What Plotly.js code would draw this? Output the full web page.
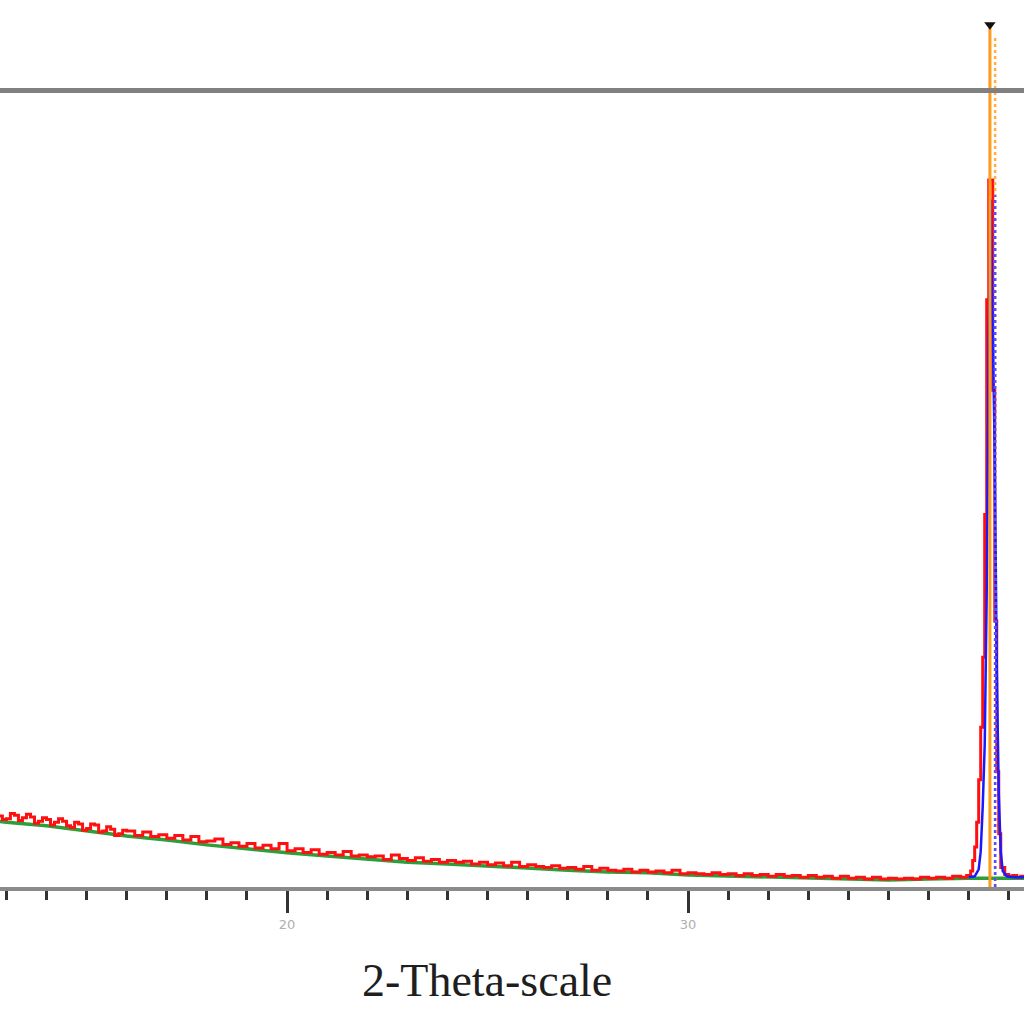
<!DOCTYPE html>
<html>
<head>
<meta charset="utf-8">
<script src="https://cdn.plot.ly/plotly-3.0.1.min.js"></script>
<style>html,body{margin:0;padding:0;background:#fff}#chart{width:1024px;height:1024px}</style>
</head>
<body>
<div id="chart"></div>
<script>
const redX = [12.8,12.9,13.0,13.1,13.2,13.3,13.4,13.5,13.6,13.7,13.8,13.9,14.0,14.1,14.2,14.3,14.4,14.5,14.6,14.7,14.8,14.9,15.0,15.1,15.2,15.3,15.4,15.5,15.6,15.7,15.8,15.9,16.0,16.2,16.4,16.6,16.8,17.0,17.2,17.4,17.6,17.8,18.0,18.2,18.4,18.6,18.8,19.0,19.2,19.4,19.6,19.8,20.0,20.2,20.4,20.6,20.8,21.0,21.2,21.4,21.6,21.8,22.0,22.2,22.4,22.6,22.8,23.0,23.2,23.4,23.6,23.8,24.0,24.2,24.4,24.6,24.8,25.0,25.2,25.4,25.6,25.8,26.0,26.2,26.4,26.6,26.8,27.0,27.2,27.4,27.6,27.8,28.0,28.2,28.4,28.6,28.8,29.0,29.2,29.4,29.6,29.8,30.0,30.2,30.4,30.6,30.8,31.0,31.2,31.4,31.6,31.8,32.0,32.2,32.4,32.6,32.8,33.0,33.2,33.4,33.6,33.8,34.0,34.2,34.4,34.6,34.8,35.0,35.2,35.4,35.6,35.8,36.0,36.2,36.4,36.6,36.8,36.95,37.05,37.10,37.15,37.20,37.25,37.30,37.35,37.40,37.45,37.50,37.55,37.60,37.65,37.70,37.75,37.80,37.90,38.00,38.10,38.20,38.30,38.40];
const redY = [80,76,77,83,81,75,78,82,79,72,74,78,76,70,73,77,74,69,67,73,71,64,66,71,70,62,63,68,65,58,60,64,63,58,62,57,59,55,58,53,57,51,52,54,48,50,46,49,44,47,43,49,41,43,39,42,37,39,36,40,35,36,34,35,31,36,32,30,33,29,31,28,30,28,29,26,28,25,27,24,28,23,25,23,22,24,21,22,20,23,19,21,19,18,20,17,19,17,18,16,19,15,16,15,14,16,14,15,13,15,13,14,12,14,12,13,11,13,11,12,10,12,10,11,9,11,9,10,9,10,9,11,10,11,10,12,11,13,18,30,45,73,121,180,259,420,662,797,797,560,300,130,60,22,14,12,13,11,12,11];

// Background (green)
const bgX = [12.8,13,14,15,16,17,18,19,20,21,22,23,24,25,26,27,28,29,30,31,32,33,34,35,36,37,38,38.4];
const bgY = [74,73,69,63,57.5,53,47.5,43,38.5,35,31.5,28,26,23.5,21.5,19,17,16,13.5,12.5,11.5,10,9,8,9,10,10,10];

// Fitted peak profile (blue)
const fitX = [37.0,37.15,37.25,37.30,37.35,37.40,37.45,37.50,37.55,37.60,37.65,37.70,37.75,37.80,37.85,37.95,38.10,38.40];
const fitY = [11,12,20,40,90,160,330,620,775,640,487,250,106,40,18,12,11,11];

// Reference line position (orange stick) and its height
const stickX = [37.53];
const stickY = [972];
const dotX = [37.66];
const dotY = [960];
const frameTopY = 898;

const xTickVals = [20, 30];
const xTickText = ['20', '30'];
const xTitle = '2-Theta-scale';

const traces = [
  {x: bgX, y: bgY, mode: 'lines', line: {color: '#2e9e3a', width: 3.5}, hoverinfo: 'skip'},
  {x: redX, y: redY, mode: 'lines', line: {color: '#ff1010', width: 3, shape: 'hv'}, hoverinfo: 'skip'},
  {x: fitX, y: fitY, mode: 'lines', line: {color: '#1a1aff', width: 2.5}, hoverinfo: 'skip'},
  {x: [stickX[0], stickX[0]], y: [0, stickY[0]], mode: 'lines', line: {color: '#ff9a1a', width: 3}, hoverinfo: 'skip'},
  {x: [dotX[0], dotX[0]], y: [0, dotY[0]], mode: 'lines', line: {color: '#ffb040', width: 2.5, dash: 'dot'}, hoverinfo: 'skip'},
  {x: [dotX[0], dotX[0]], y: [0, 780], mode: 'lines', line: {color: '#5050ff', width: 2.5, dash: 'dot'}, hoverinfo: 'skip'},
  {x: stickX, y: stickY, mode: 'markers', marker: {symbol: 'triangle-down', color: '#111', size: 10}, cliponaxis: false, hoverinfo: 'skip'}
];

const layout = {
  width: 1024, height: 1024,
  margin: {l: 0, r: 0, t: 0, b: 137, pad: 0},
  paper_bgcolor: '#ffffff', plot_bgcolor: '#ffffff',
  showlegend: false,
  xaxis: {
    range: [12.84, 38.38], showgrid: false, zeroline: false,
    showline: true, linecolor: '#8a8a8a', linewidth: 4,
    ticks: 'outside', ticklen: 22, tickwidth: 3, tickcolor: '#333',
    tickvals: xTickVals, ticktext: xTickText,
    tickfont: {family: 'DejaVu Sans, sans-serif', size: 13, color: '#b0b0b0'},
    minor: {ticks: 'outside', ticklen: 9, tickwidth: 3, tickcolor: '#333', dtick: 1, tick0: 0, showgrid: false}
  },
  yaxis: {range: [0, 1000], visible: false, fixedrange: true},
  shapes: [
    {type: 'line', xref: 'paper', x0: 0, x1: 1, yref: 'y', y0: frameTopY, y1: frameTopY, line: {color: '#808080', width: 5}}
  ],
  annotations: [
    {text: xTitle, xref: 'paper', yref: 'paper', x: 0.476, y: -0.105, xanchor: 'center', yanchor: 'middle', showarrow: false,
     font: {family: 'Liberation Serif, Times New Roman, serif', size: 46, color: '#1e1e1e'}}
  ]
};

Plotly.newPlot('chart', traces, layout, {displayModeBar: false, staticPlot: true});
</script>
</body>
</html>
